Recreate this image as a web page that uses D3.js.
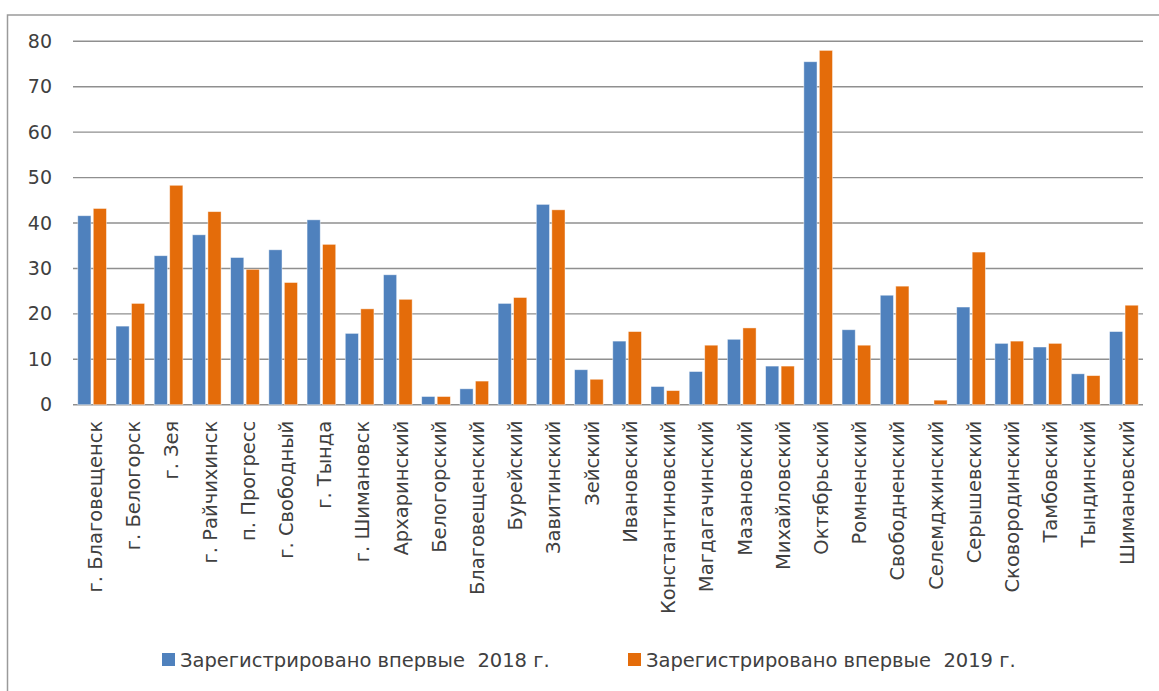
<!DOCTYPE html>
<html lang="ru">
<head>
<meta charset="utf-8">
<script src="https://cdn.jsdelivr.net/npm/d3@7"></script>
<style>
  html, body { margin: 0; padding: 0; background: #fff; }
  svg { display: block; }
  text { fill: #404040; }
</style>
</head>
<body>
<svg id="chart" width="1159" height="691"></svg>
<script>
// Районы и города Амурской области
const categories = [
  "г. Благовещенск", "г. Белогорск", "г. Зея", "г. Райчихинск", "п. Прогресс",
  "г. Свободный", "г. Тында", "г. Шимановск", "Архаринский", "Белогорский",
  "Благовещенский", "Бурейский", "Завитинский", "Зейский", "Ивановский",
  "Константиновский", "Магдагачинский", "Мазановский", "Михайловский", "Октябрьский",
  "Ромненский", "Свободненский", "Селемджинский", "Серышевский", "Сковородинский",
  "Тамбовский", "Тындинский", "Шимановский"
];

const values2018 = [
  41.6, 17.3, 32.8, 37.4, 32.4, 34.1, 40.7, 15.7, 28.6, 1.8,
  3.5, 22.3, 44.1, 7.7, 14.0, 4.0, 7.3, 14.4, 8.5, 75.5,
  16.5, 24.1, 0, 21.5, 13.5, 12.7, 6.8, 16.1
];

const values2019 = [
  43.2, 22.3, 48.3, 42.5, 29.8, 26.9, 35.3, 21.1, 23.2, 1.8,
  5.2, 23.6, 42.9, 5.6, 16.1, 3.1, 13.1, 16.9, 8.5, 78.0,
  13.1, 26.1, 1.0, 33.6, 14.0, 13.5, 6.4, 21.9
];

const seriesNames = ["Зарегистрировано впервые  2018 г.", "Зарегистрировано впервые  2019 г."];
const seriesColors = ["#4f81bd", "#e46c0a"];
const yTicks = [0, 10, 20, 30, 40, 50, 60, 70, 80];

const chartFont = "\"DejaVu Sans\", Verdana, sans-serif";

const svg = d3.select("#chart");

// Рамка области диаграммы
svg.append("rect")
  .attr("x", 7.5).attr("y", 15)
  .attr("width", 1200).attr("height", 700)
  .attr("fill", "none")
  .attr("stroke", "#9a9a9a")
  .attr("stroke-width", 1.5);

const plot = { left: 73, right: 1143, top: 41.3, bottom: 404.7 };

const x = d3.scaleBand()
  .domain(categories)
  .range([plot.left, plot.right])
  .paddingInner(0.25)
  .paddingOuter(0.125);

const xSeries = d3.scaleBand()
  .domain([0, 1])
  .range([0, x.bandwidth()])
  .paddingInner(0.15);

const y = d3.scaleLinear()
  .domain([0, 80])
  .range([plot.bottom, plot.top]);

// Линии сетки
svg.append("g")
  .selectAll("line")
  .data(yTicks)
  .join("line")
  .attr("x1", plot.left).attr("x2", plot.right)
  .attr("y1", d => y(d)).attr("y2", d => y(d))
  .attr("stroke", "#8f8f8f")
  .attr("stroke-width", 1.4);

// Подписи оси значений
const yAxis = d3.axisLeft(y).tickValues(yTicks).tickSize(0).tickPadding(0);
const yg = svg.append("g")
  .attr("transform", `translate(${plot.left - 21},0)`)
  .call(yAxis);
yg.select(".domain").remove();
yg.selectAll("text")
  .attr("font-size", 19)
  .attr("fill", "#404040")
  .style("font-family", chartFont);

// Столбцы
const rows = categories.map((c, i) => ({ c, v: [values2018[i], values2019[i]] }));
const groups = svg.append("g")
  .selectAll("g")
  .data(rows)
  .join("g")
  .attr("transform", d => `translate(${x(d.c)},0)`);

groups.selectAll("rect")
  .data(d => d.v.map((v, s) => ({ v, s })))
  .join("rect")
  .attr("x", d => xSeries(d.s))
  .attr("width", xSeries.bandwidth())
  .attr("y", d => y(d.v))
  .attr("height", d => plot.bottom - y(d.v))
  .attr("fill", d => seriesColors[d.s])
  .attr("stroke", "#ffffff")
  .attr("stroke-opacity", 0.55)
  .attr("stroke-width", 0.8);

// Подписи категорий (повёрнуты на 90°)
const xAxis = d3.axisBottom(x).tickSize(0).tickPadding(0);
const xg = svg.append("g")
  .attr("transform", `translate(0,${plot.bottom})`)
  .call(xAxis);
xg.select(".domain").remove();
xg.selectAll("text")
  .attr("font-size", 19.5)
  .attr("fill", "#404040")
  .style("font-family", chartFont)
  .attr("text-anchor", "end")
  .attr("dy", "0.5em")
  .attr("transform", "translate(0,16) rotate(-90)")
  .attr("y", 0).attr("x", 0);

// Легенда
const legendX = [162, 628];
const legend = svg.append("g")
  .selectAll("g")
  .data(seriesNames)
  .join("g")
  .attr("transform", (d, i) => `translate(${legendX[i]},653)`);
legend.append("rect")
  .attr("width", 13).attr("height", 13)
  .attr("fill", (d, i) => seriesColors[i]);
legend.append("text")
  .attr("x", 18).attr("y", 14)
  .attr("font-size", 19.5)
  .style("font-family", chartFont)
  .style("white-space", "pre")
  .text(d => d);
</script>
</body>
</html>
